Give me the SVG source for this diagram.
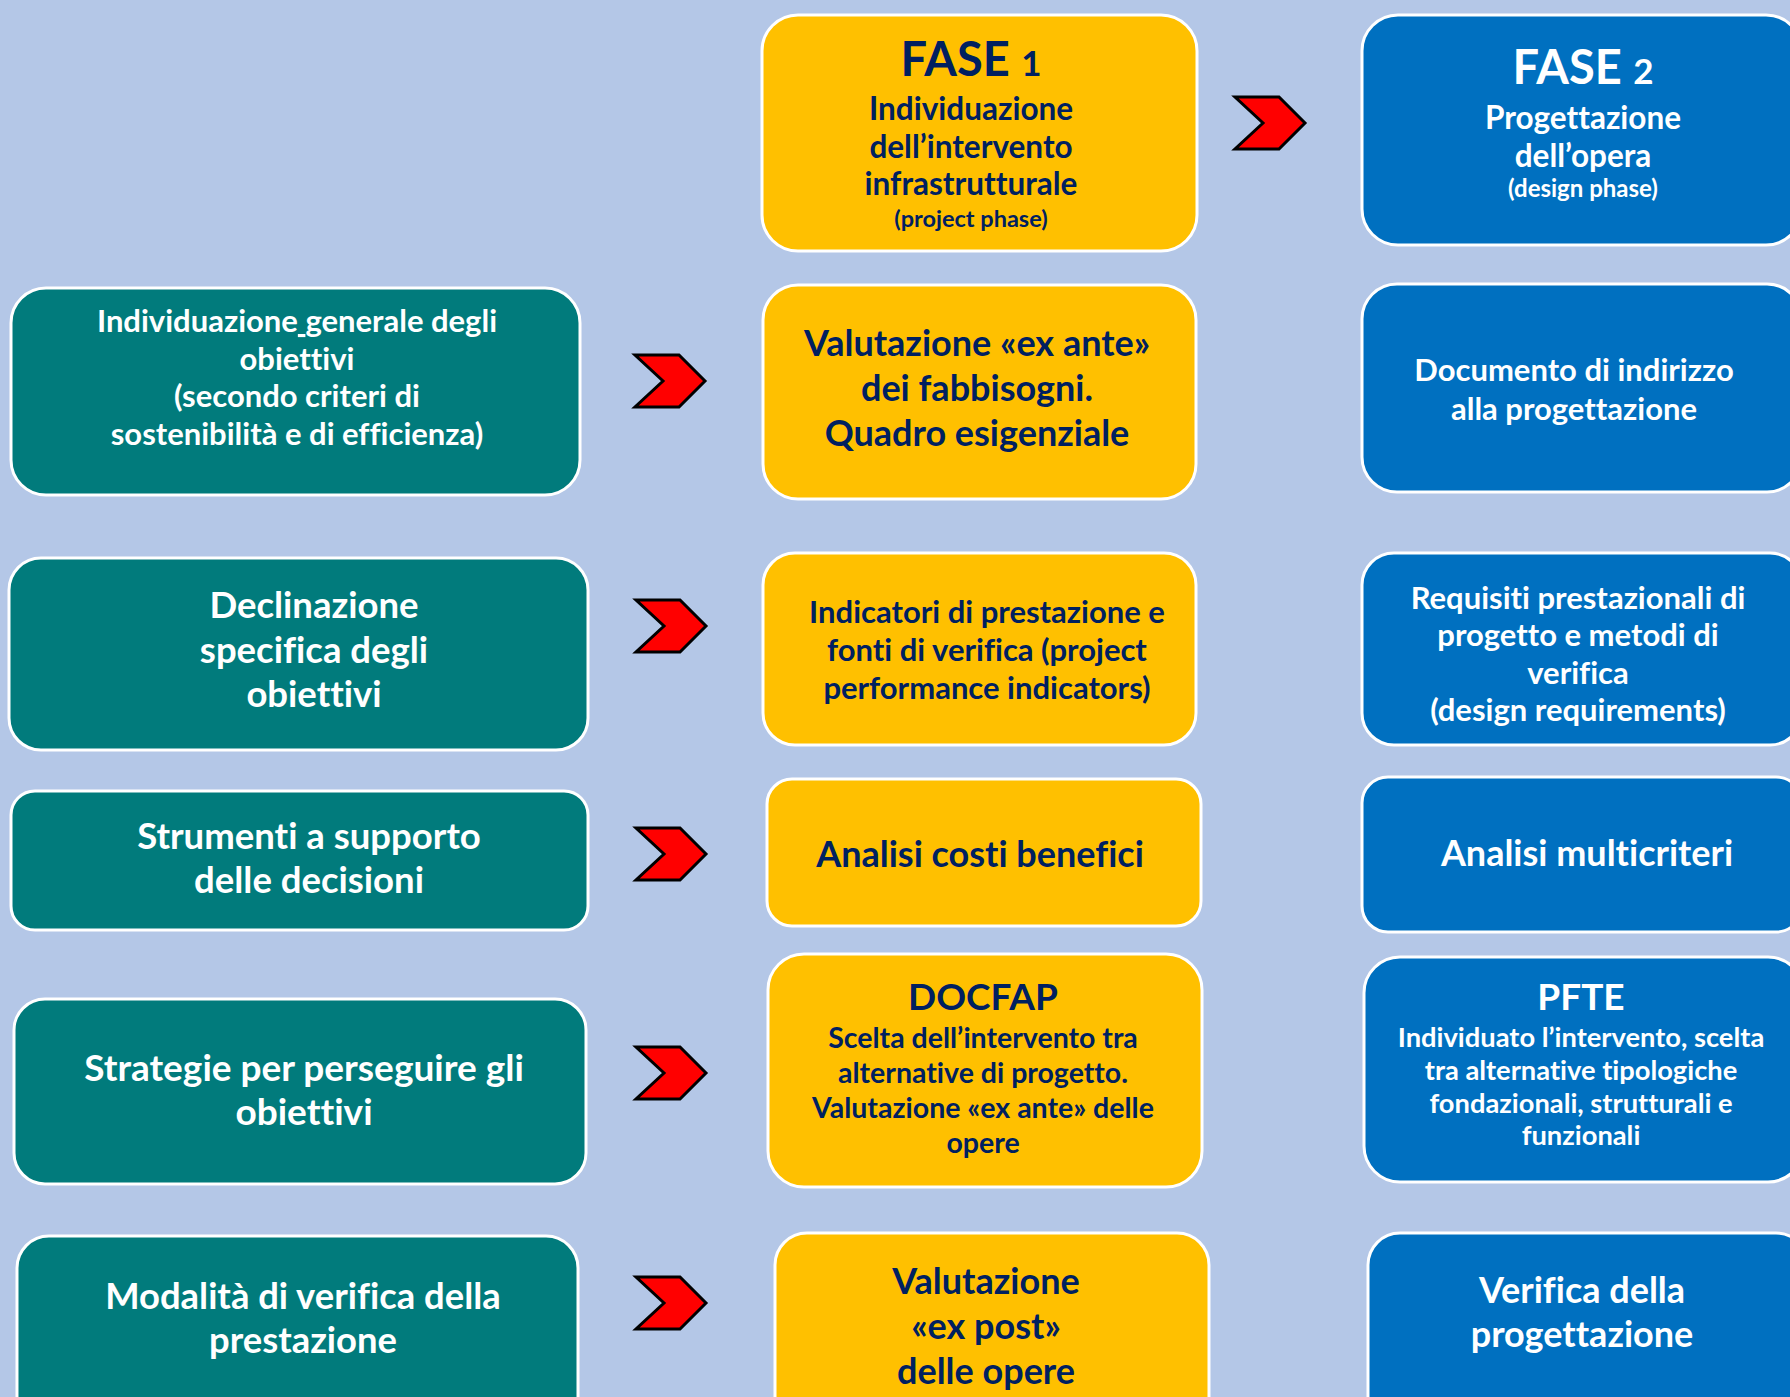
<svg xmlns="http://www.w3.org/2000/svg" width="1790" height="1397" viewBox="0 0 1790 1397">
<defs>
<style>
.bg{fill:#B4C7E7}
.teal{fill:#017B7C;stroke:#FFFFFF;stroke-width:3}
.yel{fill:#FFC000;stroke:#FFFFFF;stroke-width:3}
.blue{fill:#0070C0;stroke:#FFFFFF;stroke-width:3}
text{font-family:Lato,"Open Sans","Liberation Sans",sans-serif;font-weight:700;text-anchor:middle;font-variant-ligatures:none}
.w{fill:#FFFFFF}
.n{fill:#002060}
.chev{fill:#FF0000;stroke:#000000;stroke-width:3;stroke-linejoin:miter}
</style>
<path id="chev" d="M0,0 L44,0 L70,26 L44,52 L0,52 L28,26 Z"/>
</defs>
<rect class="bg" x="0" y="0" width="1790" height="1397"/>

<g id="connectors">
<use href="#chev" class="chev" x="1235" y="97"/>
<use href="#chev" class="chev" x="635" y="355"/>
<use href="#chev" class="chev" x="636" y="600"/>
<use href="#chev" class="chev" x="636" y="828"/>
<use href="#chev" class="chev" x="636" y="1047"/>
<use href="#chev" class="chev" x="636" y="1277"/>
</g>

<g id="fase1">
<rect class="yel" x="762" y="15" width="435" height="236" rx="36"/>
<text class="n" x="971" y="76" font-size="47">FASE <tspan font-size="35">1</tspan></text>
<text class="n" x="971" y="120" font-size="31.5">Individuazione</text>
<text class="n" x="971" y="158" font-size="31.5">dell’intervento</text>
<text class="n" x="971" y="195" font-size="31.5">infrastrutturale</text>
<text class="n" x="971" y="227" font-size="23.5">(project phase)</text>
</g>

<g id="fase2">
<rect class="blue" x="1362" y="15" width="440" height="230" rx="36"/>
<text class="w" x="1583" y="84" font-size="47">FASE <tspan font-size="35">2</tspan></text>
<text class="w" x="1583" y="129" font-size="31.5">Progettazione</text>
<text class="w" x="1583" y="167" font-size="31.5">dell’opera</text>
<text class="w" x="1583" y="197" font-size="24">(design phase)</text>
</g>

<g id="obiettivi-generali">
<rect class="teal" x="11" y="288" width="569" height="207" rx="35"/>
<text class="w" x="297" y="332" font-size="31">Individuazione<tspan text-decoration="underline"> </tspan>generale degli</text>
<text class="w" x="297" y="370" font-size="31">obiettivi</text>
<text class="w" x="297" y="407" font-size="31">(secondo criteri di</text>
<text class="w" x="297" y="445" font-size="31">sostenibilità e di efficienza)</text>
</g>

<g id="valutazione-ex-ante">
<rect class="yel" x="763" y="285" width="433" height="214" rx="35"/>
<text class="n" x="977" y="356" font-size="36">Valutazione «ex ante»</text>
<text class="n" x="977" y="401" font-size="36">dei fabbisogni.</text>
<text class="n" x="977" y="446" font-size="36">Quadro esigenziale</text>
</g>

<g id="documento-indirizzo">
<rect class="blue" x="1362" y="284" width="440" height="208" rx="35"/>
<text class="w" x="1574" y="381" font-size="31">Documento di indirizzo</text>
<text class="w" x="1574" y="420" font-size="31">alla progettazione</text>
</g>

<g id="declinazione">
<rect class="teal" x="9" y="558" width="579" height="192" rx="32"/>
<text class="w" x="314" y="618" font-size="36.5">Declinazione</text>
<text class="w" x="314" y="663" font-size="36.5">specifica degli</text>
<text class="w" x="314" y="707" font-size="36.5">obiettivi</text>
</g>

<g id="indicatori">
<rect class="yel" x="763" y="553" width="433" height="192" rx="32"/>
<text class="n" x="987" y="623" font-size="31">Indicatori di prestazione e</text>
<text class="n" x="987" y="661" font-size="31">fonti di verifica (project</text>
<text class="n" x="987" y="699" font-size="31">performance indicators)</text>
</g>

<g id="requisiti">
<rect class="blue" x="1362" y="553" width="440" height="192" rx="32"/>
<text class="w" x="1578" y="609" font-size="31">Requisiti prestazionali di</text>
<text class="w" x="1578" y="646" font-size="31">progetto e metodi di</text>
<text class="w" x="1578" y="684" font-size="31">verifica</text>
<text class="w" x="1578" y="721" font-size="31">(design requirements)</text>
</g>

<g id="strumenti">
<rect class="teal" x="11" y="791" width="577" height="139" rx="24"/>
<text class="w" x="309" y="849" font-size="36.5">Strumenti a supporto</text>
<text class="w" x="309" y="893" font-size="36.5">delle decisioni</text>
</g>

<g id="acb">
<rect class="yel" x="767" y="779" width="434" height="147" rx="25"/>
<text class="n" x="980" y="867" font-size="36">Analisi costi benefici</text>
</g>

<g id="amc">
<rect class="blue" x="1362" y="777" width="440" height="155" rx="26"/>
<text class="w" x="1587" y="866" font-size="36">Analisi multicriteri</text>
</g>

<g id="strategie">
<rect class="teal" x="14" y="999" width="572" height="185" rx="31"/>
<text class="w" x="304" y="1081" font-size="37">Strategie per perseguire gli</text>
<text class="w" x="304" y="1125" font-size="37">obiettivi</text>
</g>

<g id="docfap">
<rect class="yel" x="768" y="954" width="434" height="233" rx="36"/>
<text class="n" x="983" y="1010" font-size="37">DOCFAP</text>
<text class="n" x="983" y="1048" font-size="28.5">Scelta dell’intervento tra</text>
<text class="n" x="983" y="1083" font-size="28.5">alternative di progetto.</text>
<text class="n" x="983" y="1118" font-size="28.5">Valutazione «ex ante» delle</text>
<text class="n" x="983" y="1153" font-size="28.5">opere</text>
</g>

<g id="pfte">
<rect class="blue" x="1364" y="957" width="440" height="225" rx="36"/>
<text class="w" x="1581" y="1010" font-size="37">PFTE</text>
<text class="w" x="1581" y="1047" font-size="27.3">Individuato l’intervento, scelta</text>
<text class="w" x="1581" y="1080" font-size="27.3">tra alternative tipologiche</text>
<text class="w" x="1581" y="1113" font-size="27.3">fondazionali, strutturali e</text>
<text class="w" x="1581" y="1145" font-size="27.3">funzionali</text>
</g>

<g id="modalita">
<rect class="teal" x="17" y="1236" width="561" height="200" rx="32"/>
<text class="w" x="303" y="1309" font-size="36.4">Modalità di verifica della</text>
<text class="w" x="303" y="1353" font-size="36.4">prestazione</text>
</g>

<g id="ex-post">
<rect class="yel" x="775" y="1233" width="434" height="200" rx="32"/>
<text class="n" x="986" y="1294" font-size="36">Valutazione</text>
<text class="n" x="986" y="1339" font-size="36">«ex post»</text>
<text class="n" x="986" y="1384" font-size="36">delle opere</text>
</g>

<g id="verifica">
<rect class="blue" x="1368" y="1233" width="440" height="200" rx="32"/>
<text class="w" x="1582" y="1303" font-size="36">Verifica della</text>
<text class="w" x="1582" y="1347" font-size="36">progettazione</text>
</g>
</svg>
